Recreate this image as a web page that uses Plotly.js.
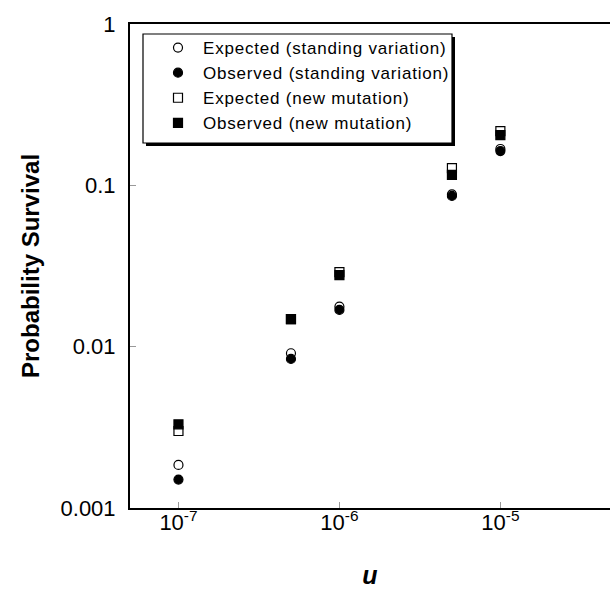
<!DOCTYPE html>
<html>
<head>
<meta charset="utf-8">
<script src="https://cdn.plot.ly/plotly-3.0.1.min.js"></script>
<style>
html,body{margin:0;padding:0;background:#fff;overflow:hidden;}
.legendtext{letter-spacing:0.8px;}
</style>
</head>
<body>
<div id="chart" style="width:610px;height:589px;"></div>
<script>
// Data
const u = [1e-7, 5e-7, 1e-6, 5e-6, 1e-5];
const expectedStanding = [0.00185, 0.0091, 0.0177, 0.088, 0.168];
const observedStanding = [0.0015, 0.0084, 0.0169, 0.086, 0.163];
const expectedNew = [0.0030, 0.0148, 0.029, 0.128, 0.217];
const observedNew = [0.0033, 0.0148, 0.0278, 0.116, 0.205];
const seriesNames = ["Expected (standing variation)", "Observed (standing variation)", "Expected (new mutation)", "Observed (new mutation)"];
const xTickVals = [1e-7, 1e-6, 1e-5];
const xTickText = ["10<sup>-7</sup>", "10<sup>-6</sup>", "10<sup>-5</sup>"];
const yTickVals = [0.001, 0.01, 0.1, 1];
const yTickText = ["0.001", "0.01", "0.1", "1"];

const FONT = "Liberation Sans, Arial, Helvetica, sans-serif";

function mk(y, name, symbol, fill) {
  return {
    x: u, y: y, name: name, type: "scatter", mode: "markers",
    marker: {symbol: symbol, size: 9, color: fill, line: {color: "#000", width: 1.2}}
  };
}
const traces = [
  mk(expectedStanding, seriesNames[0], "circle", "#fff"),
  mk(observedStanding, seriesNames[1], "circle", "#000"),
  mk(expectedNew, seriesNames[2], "square", "#fff"),
  mk(observedNew, seriesNames[3], "square", "#000")
];

// helper: pixel -> paper coords (plot area 130..610 x 24..508)
const px = v => (v - 130) / 480;
const py = v => 1 - (v - 24) / 484;

const layout = {
  width: 610, height: 589,
  margin: {l: 130, r: 0, t: 24, b: 81},
  paper_bgcolor: "#fff", plot_bgcolor: "#fff",
  font: {family: FONT, color: "#000", size: 20},
  showlegend: true,
  legend: {
    x: px(153), y: py(30), xanchor: "left", yanchor: "top",
    bgcolor: "rgba(0,0,0,0)", borderwidth: 0,
    font: {family: FONT, size: 17, color: "#000"},
    itemwidth: 40,
    tracegroupgap: 0
  },
  xaxis: {
    type: "log",
    range: [Math.log10(5e-8), -4.319],
    tickvals: xTickVals, ticktext: xTickText,
    ticks: "inside", ticklen: 6, tickwidth: 1, tickcolor: "#999",
    showline: true, linecolor: "#000", linewidth: 2, mirror: true,
    showgrid: false, zeroline: false,
    tickfont: {family: FONT, size: 22, color: "#000"},
    ticklabelstandoff: -6,
    title: {text: "<b><i>u</i></b>", font: {family: FONT, size: 25, color: "#000"}, standoff: 32},
    automargin: false
  },
  yaxis: {
    type: "log",
    range: [-3, 0],
    tickvals: yTickVals, ticktext: yTickText,
    ticks: "inside", ticklen: 6, tickwidth: 1, tickcolor: "#999",
    showline: true, linecolor: "#000", linewidth: 2, mirror: false,
    showgrid: false, zeroline: false,
    tickfont: {family: FONT, size: 22, color: "#000"},
    ticklabelstandoff: 8,
    title: {text: "<b>Probability Survival</b>", font: {family: FONT, size: 24, color: "#000"}, standoff: 14},
    automargin: false
  },
  shapes: [
    {type: "rect", xref: "paper", yref: "paper", layer: "above",
     x0: px(146), x1: px(455), y0: py(37), y1: py(146),
     fillcolor: "#000", line: {width: 0}},
    {type: "rect", xref: "paper", yref: "paper", layer: "above",
     x0: px(143), x1: px(452), y0: py(34), y1: py(143),
     fillcolor: "#fff", line: {color: "#000", width: 1.2}}
  ]
};

Plotly.newPlot("chart", traces, layout, {displayModeBar: false, staticPlot: true});
</script>
</body>
</html>
